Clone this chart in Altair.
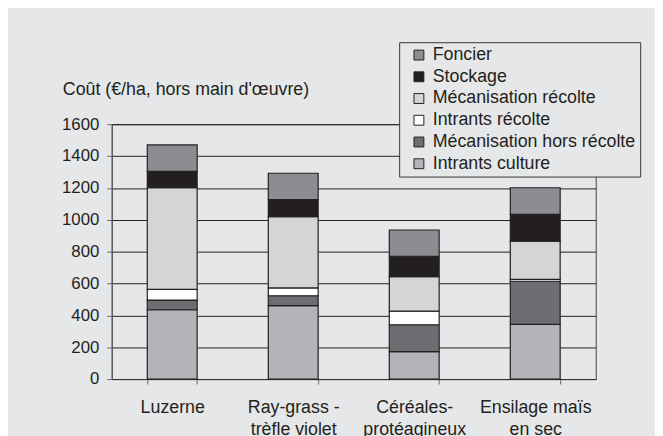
import altair as alt
import pandas as pd

categories = ["Luzerne", "Ray-grass -\ntrèfle violet", "Céréales-\nprotéagineux", "Ensilage maïs\nen sec"]

# series, bottom of the stack first
intrants_culture = [435, 461, 172, 343]
meca_hors_recolte = [61, 62, 169, 271]
intrants_recolte = [67, 49, 85, 12]
meca_recolte = [638, 447, 217, 240]
stockage = [103, 108, 128, 168]
foncier = [166, 165, 165, 167]

series_names = ["Intrants culture", "Mécanisation hors récolte", "Intrants récolte",
                "Mécanisation récolte", "Stockage", "Foncier"]
series_values = [intrants_culture, meca_hors_recolte, intrants_recolte,
                 meca_recolte, stockage, foncier]

legend_order = ["Foncier", "Stockage", "Mécanisation récolte", "Intrants récolte",
                "Mécanisation hors récolte", "Intrants culture"]
legend_colors = ["#8c8d90", "#231f20", "#d4d5d7", "#ffffff", "#6d6e71", "#b3b4b7"]

y_ticks = [0, 200, 400, 600, 800, 1000, 1200, 1400, 1600]

rows = []
for i, c in enumerate(categories):
    for j, (name, vals) in enumerate(zip(series_names, series_values)):
        rows.append({"culture": c, "poste": name, "cout": vals[i], "ordre": j})
df = pd.DataFrame(rows)

FONT = "Liberation Sans"
TXT = "#231f20"

chart = alt.Chart(df).mark_bar(stroke="#231f20", strokeWidth=1.2).encode(
    x=alt.X(
        "culture:N",
        sort=categories,
        scale=alt.Scale(paddingInner=0.588, paddingOuter=0.294),
        axis=alt.Axis(
            title=None, labelAngle=0, tickBand="extent",
            labelExpr="split(datum.label, '\\n')",
            labelFont=FONT, labelFontSize=18, labelColor=TXT,
            labelLineHeight=22, labelPadding=15, tickSize=5,
            tickColor="#666666", domainColor="#333333", grid=False,
        ),
    ),
    y=alt.Y(
        "cout:Q",
        stack="zero",
        scale=alt.Scale(domain=[0, 1600], nice=False),
        axis=alt.Axis(
            values=y_ticks, format="d", title="Coût (€/ha, hors main d'œuvre)",
            titleAngle=0, titleX=-50, titleY=-30, titleAlign="left",
            titleBaseline="alphabetic", titleFont=FONT, titleFontSize=18,
            titleFontWeight="normal", titleColor=TXT,
            labelFont=FONT, labelFontSize=17, labelColor=TXT, labelPadding=8,
            tickSize=5, tickColor="#666666", domainColor="#555555",
            grid=True, gridColor="#231f20", gridWidth=1,
        ),
    ),
    color=alt.Color(
        "poste:N",
        scale=alt.Scale(domain=legend_order, range=legend_colors),
        legend=alt.Legend(
            title=None, orient="none", legendX=291, legendY=-83,
            fillColor="#e6e7e9", strokeColor="#333333", padding=4,
            symbolType="square", symbolSize=100, symbolStrokeColor="#231f20",
            symbolStrokeWidth=1, symbolOffset=7, labelOffset=5,
            labelFont=FONT, labelFontSize=18, labelColor=TXT, labelLimit=300,
            rowPadding=4,
        ),
    ),
    order=alt.Order("ordre:Q", sort="ascending"),
).properties(
    width=490,
    height=258,
    padding={"left": 105, "top": 115, "right": 60, "bottom": 55},
    autosize=alt.AutoSizeParams(type="none"),
    background="#e6e7e9",
).configure_view(stroke="#444444", strokeWidth=1)

chart.save("out.html", embed_options={"renderer": "svg", "actions": False})
